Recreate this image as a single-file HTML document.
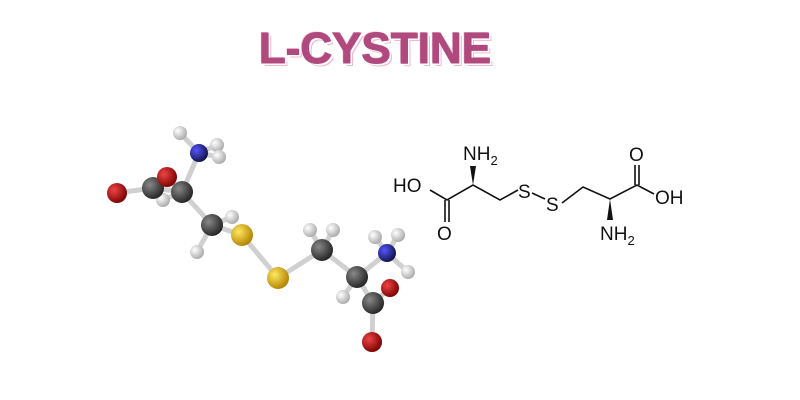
<!DOCTYPE html>
<html><head><style>
body{margin:0;width:800px;height:400px;background:#fff;overflow:hidden;position:relative;font-family:"Liberation Sans",sans-serif}
.t{position:absolute;left:250px;top:24px;width:250px;text-align:center;font:bold 44px "Liberation Sans",sans-serif;color:#b04a7e;letter-spacing:0px;-webkit-text-stroke:1px #b04a7e;text-shadow:2px 2px 0 #fff,3px 3px 0 #f0b8cf,-1px -1px 0 #f0b8cf}
</style></head><body>
<div class="t">L-CYSTINE</div>
<svg width="800" height="400" style="position:absolute;left:0;top:0">
<defs>
<radialGradient id="gH" cx="35%" cy="35%" r="70%"><stop offset="0" stop-color="#fff"/><stop offset="1" stop-color="#a8a8a8"/></radialGradient>
<radialGradient id="gC" cx="35%" cy="35%" r="70%"><stop offset="0" stop-color="#888"/><stop offset="1" stop-color="#222"/></radialGradient>
<radialGradient id="gO" cx="35%" cy="35%" r="70%"><stop offset="0" stop-color="#e44"/><stop offset="1" stop-color="#700"/></radialGradient>
<radialGradient id="gN" cx="35%" cy="35%" r="70%"><stop offset="0" stop-color="#55f"/><stop offset="1" stop-color="#114"/></radialGradient>
<radialGradient id="gS" cx="35%" cy="35%" r="70%"><stop offset="0" stop-color="#ffe860"/><stop offset="1" stop-color="#b08000"/></radialGradient>
</defs>
<g stroke="#d0d0d0" stroke-width="5" stroke-linecap="round" fill="none">
<path d="M180 133L199 153L217 145M199 153L219 157M199 153L182 192L153 188L117 193M153 188L167 177M182 192L163 200M182 192L212 225L232 217M212 225L197 252M212 225L242 235L278 278L322 250L310 230M322 250L333 230M322 250L357 277L343 297M357 277L387 253L375 237M387 253L398 235M387 253L408 272M357 277L373 303L390 288M373 303L372 342"/>
</g>
<circle cx="180" cy="133" r="7" fill="url(#gH)"/>
<circle cx="217" cy="145" r="7" fill="url(#gH)"/>
<circle cx="219" cy="157" r="7" fill="url(#gH)"/>
<circle cx="199" cy="153" r="9" fill="url(#gN)"/>
<circle cx="117" cy="193" r="10" fill="url(#gO)"/>
<circle cx="163" cy="200" r="7" fill="url(#gH)"/>
<circle cx="153" cy="188" r="11" fill="url(#gC)"/>
<circle cx="182" cy="192" r="11" fill="url(#gC)"/>
<circle cx="167" cy="177" r="10" fill="url(#gO)"/>
<circle cx="197" cy="252" r="7" fill="url(#gH)"/>
<circle cx="212" cy="225" r="11" fill="url(#gC)"/>
<circle cx="232" cy="217" r="7" fill="url(#gH)"/>
<circle cx="242" cy="235" r="11" fill="url(#gS)"/>
<circle cx="278" cy="278" r="11" fill="url(#gS)"/>
<circle cx="310" cy="230" r="7" fill="url(#gH)"/>
<circle cx="333" cy="230" r="7" fill="url(#gH)"/>
<circle cx="322" cy="250" r="11" fill="url(#gC)"/>
<circle cx="375" cy="237" r="7" fill="url(#gH)"/>
<circle cx="398" cy="235" r="7" fill="url(#gH)"/>
<circle cx="408" cy="272" r="7" fill="url(#gH)"/>
<circle cx="387" cy="253" r="9" fill="url(#gN)"/>
<circle cx="343" cy="297" r="7" fill="url(#gH)"/>
<circle cx="357" cy="277" r="11" fill="url(#gC)"/>
<circle cx="390" cy="288" r="9" fill="url(#gO)"/>
<circle cx="373" cy="303" r="11" fill="url(#gC)"/>
<circle cx="372" cy="342" r="10" fill="url(#gO)"/>
<g stroke="#111" stroke-width="1.6" fill="none">
<path d="M430 190L447 200L473 185L500 200L518 190M532 193L545 199M562 203L583 187L610 199L637 185L654 194"/>
<path d="M445 200L445 222M449 200L449 222M635 185L635 165M639 185L639 165"/>
</g>
<polygon points="473,185 470,166 476,166" fill="#111"/>
<polygon points="610,199 607,220 613,220" fill="#111"/>
<g font-family="Liberation Sans,sans-serif" font-size="19" fill="#111">
<text x="393" y="192">HO</text>
<text x="463" y="160">NH<tspan font-size="13" dy="5">2</tspan></text>
<text x="437" y="240">O</text>
<text x="518" y="198">S</text>
<text x="546" y="211">S</text>
<text x="629" y="161">O</text>
<text x="655" y="204">OH</text>
<text x="600" y="240">NH<tspan font-size="13" dy="5">2</tspan></text>
</g>
</svg>
</body></html>
